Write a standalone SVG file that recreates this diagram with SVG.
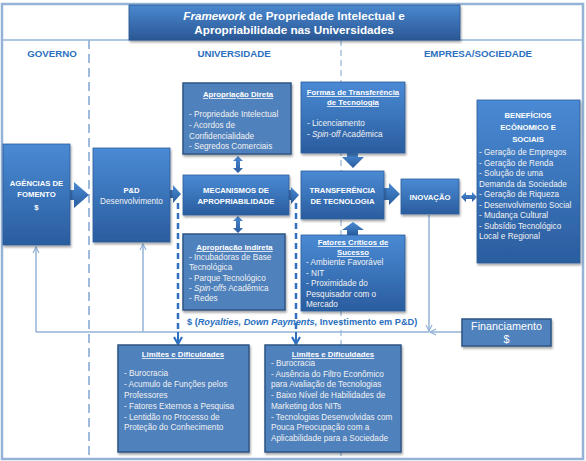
<svg xmlns="http://www.w3.org/2000/svg" width="586" height="461" viewBox="0 0 586 461">
<style>
text{font-family:"Liberation Sans",Arial,sans-serif;fill:#fff}
.hd{font-weight:bold;font-size:9.7px;fill:#2a70c0;text-anchor:middle}
.ti{font-weight:bold;font-size:11.7px;text-anchor:middle}
.h{font-weight:bold;font-size:7.8px;text-decoration:underline;text-anchor:middle}
.l{font-size:8.2px;fill:#f2f2f2}
.c{font-weight:bold;font-size:7.7px;text-anchor:middle}
.gbox{fill:url(#gb);stroke:#2e5d99;stroke-width:0.8}
.fbox{fill:#4f81bd;stroke:#2f5584;stroke-width:1.5}
.thin{fill:none;stroke:#95b3d7;stroke-width:1.5}
.dash{fill:none;stroke:#3070bf;stroke-width:2.5;stroke-dasharray:6 4}
.solid{fill:none;stroke:#3070bf;stroke-width:2}
.blk{fill:url(#gb)}
</style>
<defs>
<linearGradient id="gb" x1="0" y1="0" x2="0" y2="1"><stop offset="0" stop-color="#4a8ad4"/><stop offset="1" stop-color="#2a5d9f"/></linearGradient>
<linearGradient id="gt" x1="0" y1="0" x2="0" y2="1"><stop offset="0" stop-color="#4a88cf"/><stop offset="1" stop-color="#2a5795"/></linearGradient>
<filter id="sh" x="-10%" y="-10%" width="130%" height="130%"><feDropShadow dx="1" dy="2" stdDeviation="1.2" flood-color="#000" flood-opacity="0.35"/></filter>
<marker id="ao" viewBox="0 0 8 8" refX="7" refY="4" markerWidth="8" markerHeight="8" markerUnits="userSpaceOnUse" orient="auto"><path d="M1,1 L7,4 L1,7" fill="none" stroke="#95b3d7" stroke-width="1.2"/></marker>
<marker id="ad" viewBox="0 0 10 10" refX="8" refY="5" markerWidth="10" markerHeight="10" markerUnits="userSpaceOnUse" orient="auto"><path d="M1,1 L8,5 L1,9" fill="none" stroke="#3070bf" stroke-width="2.2"/></marker>
</defs>
<rect width="586" height="461" fill="#fff"/>
<g id="frame">
<rect x="2" y="4" width="581" height="455" fill="none" stroke="#95b3d7" stroke-width="2.5"/>
<line x1="2" y1="40" x2="583" y2="40" stroke="#95b3d7" stroke-width="1.5"/>
<line x1="89" y1="40" x2="89" y2="459" stroke="#95b3d7" stroke-width="1.8" stroke-dasharray="9 5"/>
<line x1="341" y1="40" x2="341" y2="459" stroke="#95b3d7" stroke-width="1.2" stroke-dasharray="6 4"/>
<text class="hd" x="52" y="57">GOVERNO</text>
<text class="hd" x="234" y="57">UNIVERSIDADE</text>
<text class="hd" x="478" y="57">EMPRESA/SOCIEDADE</text>
</g>
<g id="title">
<rect x="129" y="5" width="331" height="35" fill="url(#gt)" stroke="#2a5590" stroke-width="0.8" filter="url(#sh)"/>
<text class="ti" x="294" y="19.5"><tspan font-style="italic">Framework</tspan> de Propriedade Intelectual e</text>
<text class="ti" x="294" y="34">Apropriabilidade nas Universidades</text>
</g>
<g id="connectors">
<path class="thin" d="M36,332 H429"/>
<path class="thin" d="M36,332 V247" marker-end="url(#ao)"/>
<path class="thin" d="M143,332 V244" marker-end="url(#ao)"/>
<path class="thin" d="M429,215 V331" marker-end="url(#ao)"/>
<path class="thin" d="M462,332 H430" marker-end="url(#ao)"/>
<path class="dash" d="M178,203 V332"/>
<path class="dash" d="M296,203 V332"/>
<path class="solid" d="M178,332 V344" marker-end="url(#ad)"/>
<path class="solid" d="M296,332 V344" marker-end="url(#ad)"/>
<polygon class="blk" points="70,190 74,190 74,182 89,195 74,208 74,200 70,200"/>
<polygon class="blk" points="170,190 173,190 173,185 181,194 173,203 173,198 170,198"/>
<polygon class="blk" points="289,190 291,190 291,187 299,195 291,204 291,200 289,200"/>
<polygon class="blk" points="384,188 389,188 389,183 400,194 389,205 389,200 384,200"/>
<polygon class="blk" points="347,153 358,153 358,157 364,157 353,168 342,157 347,157"/>
<polygon class="blk" points="347,235 358,235 358,230 364,230 353,222 342,230 347,230"/>
<polygon class="blk" points="238,156 243,161 240,161 240,168 243,168 238,173 233,168 236,168 236,161 233,161"/>
<polygon class="blk" points="238,216 243,221 240,221 240,228 243,228 238,233 233,228 236,228 236,221 233,221"/>
<polygon class="blk" points="461,197 466,192 466,195 472,195 472,192 477,197 472,202 472,199 466,199 466,202"/>
</g>
<g id="agencias">
<rect class="gbox" x="3" y="144" width="67" height="101" filter="url(#sh)"/>
<text class="c" x="36.5" y="186">AGÊNCIAS DE</text>
<text class="c" x="36.5" y="197">FOMENTO</text>
<text class="c" x="36.5" y="210" font-size="10px">$</text>
</g>
<g id="pd">
<rect class="gbox" x="93" y="148" width="77" height="94" filter="url(#sh)"/>
<text class="c" x="131.5" y="192.5" font-size="9.5px">P&amp;D</text>
<text class="l" x="131.5" y="204" text-anchor="middle">Desenvolvimento</text>
</g>
<g id="aprop-direta">
<rect class="fbox" x="183" y="83" width="108" height="71" filter="url(#sh)"/>
<text class="h" x="238" y="97">Apropriação Direta</text>
<text class="l" x="189" y="117">- Propriedade  Intelectual</text>
<text class="l" x="189" y="128">- Acordos de</text>
<text class="l" x="189" y="139">Confidencialidade</text>
<text class="l" x="189" y="149">- Segredos Comerciais</text>
</g>
<g id="mecanismos">
<rect class="gbox" x="183" y="175" width="106" height="40" filter="url(#sh)"/>
<text class="c" x="236" y="193">MECANISMOS DE</text>
<text class="c" x="236" y="204">APROPRIABILIDADE</text>
</g>
<g id="aprop-indireta">
<rect class="fbox" x="183" y="234" width="102" height="76" filter="url(#sh)"/>
<text class="h" x="234.5" y="250">Apropriação Indireta</text>
<text class="l" x="189" y="260">- Incubadoras de Base</text>
<text class="l" x="189" y="270">Tecnológica</text>
<text class="l" x="189" y="281">- Parque Tecnológico</text>
<text class="l" x="189" y="291">- <tspan font-style="italic">Spin-offs</tspan> Acadêmica</text>
<text class="l" x="189" y="301">- Redes</text>
</g>
<g id="royalties">
<text x="187" y="324.5" font-weight="bold" font-size="9.2px" style="fill:#2a70c0">$ (<tspan font-style="italic">Royalties, Down Payments,</tspan> Investimento em P&amp;D)</text>
</g>
<g id="formas">
<rect class="gbox" x="301" y="82" width="104" height="71" filter="url(#sh)"/>
<text class="h" x="353" y="95">Formas de Transferência</text>
<text class="h" x="353" y="105">de Tecnologia</text>
<text class="l" x="307" y="126">- Licenciamento</text>
<text class="l" x="307" y="137">- <tspan font-style="italic">Spin-off</tspan> Acadêmica</text>
</g>
<g id="transferencia">
<rect class="gbox" x="301" y="171" width="83" height="48" filter="url(#sh)"/>
<text class="c" x="342.5" y="193">TRANSFERÊNCIA</text>
<text class="c" x="342.5" y="204">DE TECNOLOGIA</text>
</g>
<g id="fatores">
<rect class="gbox" x="301" y="235" width="104" height="76" filter="url(#sh)"/>
<text class="h" x="353" y="245">Fatores Críticos de</text>
<text class="h" x="353" y="255">Sucesso</text>
<text class="l" x="306" y="265">- Ambiente  Favorável</text>
<text class="l" x="306" y="276">- NIT</text>
<text class="l" x="306" y="286">- Proximidade do</text>
<text class="l" x="306" y="297">Pesquisador com o</text>
<text class="l" x="306" y="307">Mercado</text>
</g>
<g id="inovacao">
<rect class="gbox" x="401" y="179" width="58" height="35" filter="url(#sh)"/>
<text class="c" x="430" y="200" font-size="8px">INOVAÇÃO</text>
</g>
<g id="beneficios">
<rect class="gbox" x="477" y="100" width="103" height="163" filter="url(#sh)"/>
<text class="c" x="528" y="118" font-size="9px">BENEFÍCIOS</text>
<text class="c" x="528" y="130" font-size="9px">ECÔNOMICO E</text>
<text class="c" x="528" y="142" font-size="9px">SOCIAIS</text>
<text class="l" x="479" y="155">- Geração de Empregos</text>
<text class="l" x="479" y="165.5">- Geração de Renda</text>
<text class="l" x="479" y="176">- Solução de uma</text>
<text class="l" x="479" y="186.5">Demanda da Sociedade</text>
<text class="l" x="479" y="197">- Geração de Riqueza</text>
<text class="l" x="479" y="207.5">- Desenvolvimento Social</text>
<text class="l" x="479" y="218">- Mudança  Cultural</text>
<text class="l" x="479" y="228.5">- Subsídio Tecnológico</text>
<text class="l" x="479" y="239">Local e Regional</text>
</g>
<g id="limites-univ">
<rect class="fbox" x="118" y="345" width="131" height="107" filter="url(#sh)"/>
<text class="h" x="183" y="357">Limites e Dificuldades</text>
<text class="l" x="124" y="376">- Burocracia</text>
<text class="l" x="124" y="387">- Acumulo de Funções pelos</text>
<text class="l" x="124" y="398">Professores</text>
<text class="l" x="124" y="409">- Fatores Externos a Pesquisa</text>
<text class="l" x="124" y="420">- Lentidão no Processo de</text>
<text class="l" x="124" y="430">Proteção do Conhecimento</text>
</g>
<g id="limites-empresa">
<rect class="fbox" x="265" y="345" width="136" height="107" filter="url(#sh)"/>
<text class="h" x="333" y="357">Limites e Dificuldades</text>
<text class="l" x="271" y="366">- Burocracia</text>
<text class="l" x="271" y="377">- Ausência do Filtro Econômico</text>
<text class="l" x="271" y="387">para Avaliação de Tecnologias</text>
<text class="l" x="271" y="398">- Baixo Nível de Habilidades de</text>
<text class="l" x="271" y="409">Marketing dos NITs</text>
<text class="l" x="271" y="420">- Tecnologias Desenvolvidas com</text>
<text class="l" x="271" y="430">Pouca Preocupação com a</text>
<text class="l" x="271" y="441">Aplicabilidade para a Sociedade</text>
</g>
<g id="financiamento">
<rect class="fbox" x="462" y="319" width="89" height="27" filter="url(#sh)"/>
<text x="506.5" y="330" font-size="10.8px" text-anchor="middle">Financiamento</text>
<text x="506.5" y="343" font-size="10.8px" text-anchor="middle">$</text>
</g>
</svg>
